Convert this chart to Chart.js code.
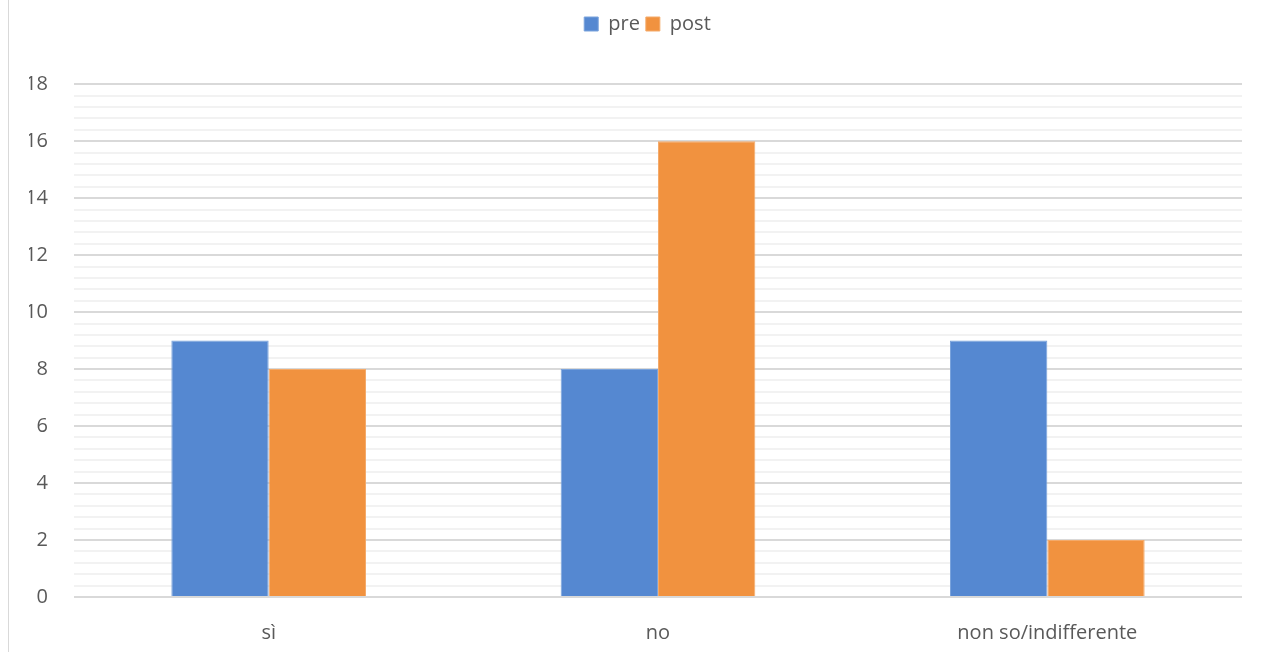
<!DOCTYPE html>
<html>
<head>
<meta charset="utf-8">
<script src="https://cdn.jsdelivr.net/npm/chart.js@4.4.1/dist/chart.umd.min.js"></script>
<style>
  html, body { margin: 0; padding: 0; background: #ffffff; }
  #wrap { position: relative; width: 1266px; height: 652px; }
  #frame { position: absolute; left: 8px; top: 0; width: 1px; height: 652px; background: #d9d9d9; }
  canvas { position: absolute; left: 0; top: 0; }
</style>
</head>
<body>
<div id="wrap">
  <div id="frame"></div>
  <canvas id="chart" width="1266" height="652"></canvas>
</div>
<script>
const categories = ['sì', 'no', 'non so/indifferente'];
const preValues = [9, 8, 9];
const postValues = [8, 16, 2];
const yMin = 0;
const yMax = 18;
const majorStep = 2;
const minorStep = 0.4;

const textColor = '#595959';
const fontFamily = '"Open Sans", "Liberation Sans", sans-serif';

function isMajor(v) {
  const r = v / majorStep;
  return Math.abs(r - Math.round(r)) < 1e-6;
}

// nudge the legend row to the right so it sits over the middle of the frame
const legendShift = {
  id: 'legendShift',
  afterLayout(chart) {
    const lg = chart.legend;
    if (lg) { lg.left += 12; lg.right += 12; }
  }
};

new Chart(document.getElementById('chart'), {
  type: 'bar',
  data: {
    labels: categories,
    datasets: [
      { label: 'pre', data: preValues, backgroundColor: '#5588D1', borderColor: '#7aa3dc', borderWidth: 1 },
      { label: 'post', data: postValues, backgroundColor: '#F1923F', borderColor: '#f4aa6a', borderWidth: 1 }
    ]
  },
  plugins: [legendShift],
  options: {
    responsive: false,
    animation: false,
    layout: { padding: { left: 29, right: 24, top: 8, bottom: 0 } },
    datasets: { bar: { categoryPercentage: 0.5, barPercentage: 1.0 } },
    plugins: {
      tooltip: { enabled: false },
      // empty title used as a spacer between the legend and the plot
      title: {
        display: true,
        text: '',
        weight: 500,
        font: { size: 1 },
        padding: { top: 0, bottom: 39 }
      },
      legend: {
        position: 'top',
        align: 'center',
        weight: 1000,
        labels: {
          boxWidth: 14,
          boxHeight: 14,
          padding: 6,
          color: textColor,
          font: { family: fontFamily, size: 20 }
        }
      }
    },
    scales: {
      x: {
        grid: { display: false },
        border: { display: false },
        ticks: { color: textColor, font: { family: fontFamily, size: 20 }, padding: 16 },
        afterFit(scale) { scale.height = 55; }
      },
      y: {
        min: yMin,
        max: yMax,
        border: { display: false },
        grid: {
          drawTicks: false,
          lineWidth: 2,
          color: ctx => isMajor(ctx.tick.value) ? '#d9d9d9' : '#f2f2f2'
        },
        ticks: {
          stepSize: minorStep,
          maxTicksLimit: 100,
          autoSkip: false,
          padding: 26,
          color: textColor,
          font: { family: fontFamily, size: 20 },
          callback: v => isMajor(v) ? String(Math.round(v)) : ''
        },
        afterFit(scale) { scale.width = 45; }
      }
    }
  }
});
</script>
</body>
</html>
